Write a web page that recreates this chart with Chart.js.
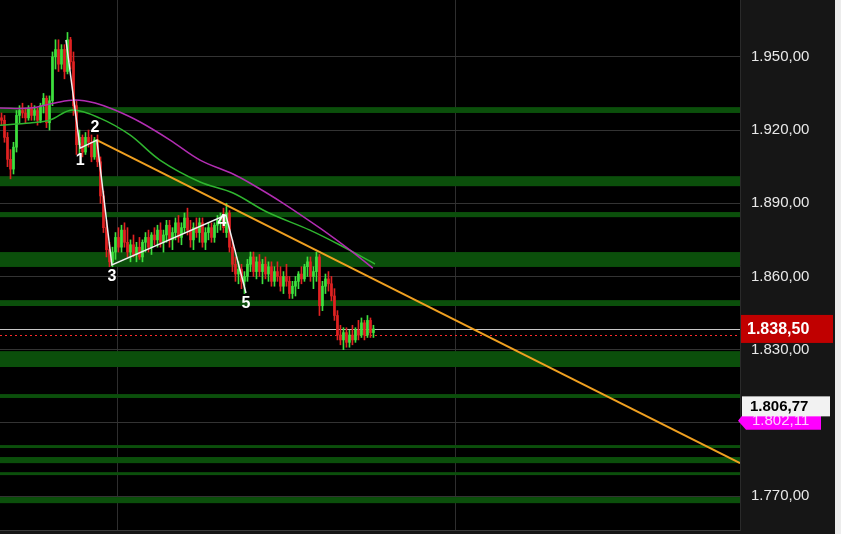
<!DOCTYPE html>
<html>
<head>
<meta charset="utf-8">
<script src="https://cdn.jsdelivr.net/npm/chart.js@4"></script>
<style>
  html, body { margin: 0; padding: 0; background: #000; }
  canvas { display: block; }
</style>
</head>
<body>
<canvas id="priceChart" width="841" height="534"></canvas>
<script>
// candle data (bar index, OHLC)
const opens  = [1925,1924,1917,1908,1904,1913,1926,1928,1927,1925,1929,1926,1928,1924,1930,1933,1923,1932,1950,1953,
                1947,1953,1944,1957,1948,1930,1914,1917,1911,1917,1915,1909,1916,1907,1893,1880,1871,1866,1870,1876,
                1872,1879,1874,1870,1873,1869,1872,1868,1874,1876,1872,1877,1875,1879,1874,1877,1881,1875,1878,1882,
                1876,1880,1884,1879,1875,1880,1878,1882,1874,1878,1880,1876,1881,1883,1884,1878,1886,1872,1865,1861,
                1863,1858,1860,1865,1868,1862,1866,1862,1865,1861,1864,1858,1862,1860,1856,1860,1858,1853,1856,1858,
                1861,1859,1864,1866,1860,1862,1868,1848,1856,1859,1857,1852,1844,1836,1834,1837,1833,1836,1834,1838,
                1836,1841,1836,1842,1837];
const highs  = [1927,1926,1919,1912,1915,1928,1930,1931,1929,1930,1931,1930,1929,1931,1935,1934,1934,1952,1957,1957,
                1955,1955,1960,1958,1952,1932,1920,1918,1919,1920,1918,1917,1918,1909,1895,1883,1874,1872,1878,1880,
                1881,1882,1880,1875,1877,1874,1876,1875,1878,1879,1878,1880,1881,1882,1879,1883,1883,1880,1884,1885,
                1882,1886,1888,1883,1882,1884,1884,1884,1880,1882,1882,1882,1885,1886,1888,1890,1887,1875,1868,1866,
                1865,1862,1867,1870,1870,1868,1869,1867,1868,1866,1866,1864,1866,1864,1862,1865,1860,1858,1860,1862,
                1864,1865,1868,1868,1864,1870,1869,1858,1861,1862,1860,1855,1846,1840,1839,1839,1838,1840,1839,1842,
                1843,1842,1844,1843,1840];
const lows   = [1922,1915,1905,1900,1902,1911,1923,1925,1923,1924,1924,1924,1922,1923,1927,1921,1920,1930,1945,1944,
                1945,1941,1943,1945,1926,1910,1910,1909,1910,1913,1907,1908,1905,1890,1878,1868,1864,1864,1867,1870,
                1870,1872,1868,1866,1868,1866,1867,1866,1870,1870,1869,1873,1872,1872,1870,1874,1872,1871,1875,1874,
                1873,1878,1877,1872,1871,1876,1874,1872,1871,1875,1874,1874,1878,1879,1878,1876,1870,1862,1858,1857,
                1855,1853,1858,1862,1860,1859,1860,1857,1859,1858,1856,1856,1858,1854,1853,1856,1851,1851,1852,1855,
                1857,1858,1860,1858,1855,1858,1844,1846,1853,1854,1850,1842,1834,1832,1830,1831,1831,1832,1833,1834,
                1835,1834,1835,1835,1835];
const closes = [1924,1917,1908,1904,1913,1926,1928,1927,1925,1929,1926,1928,1924,1930,1933,1923,1932,1950,1953,1947,
                1953,1944,1957,1948,1930,1914,1917,1911,1917,1915,1909,1916,1907,1893,1880,1871,1866,1870,1876,1872,
                1879,1874,1870,1873,1869,1872,1868,1874,1876,1872,1877,1875,1879,1874,1877,1881,1875,1878,1882,1876,
                1880,1884,1879,1875,1880,1878,1882,1874,1878,1880,1876,1881,1883,1884,1880,1886,1872,1865,1861,1863,
                1858,1860,1865,1868,1862,1866,1862,1865,1861,1864,1858,1862,1860,1856,1860,1858,1853,1856,1858,1861,
                1859,1864,1866,1860,1862,1868,1848,1856,1859,1857,1852,1844,1836,1834,1837,1833,1836,1834,1838,1836,
                1841,1836,1842,1837,1838.5];

// moving averages (bar index, price)
const maSlowX = [0, 10, 18.3, 25, 31.7, 38.3, 46.7, 56.7, 66.7, 77.7, 83.3, 94.3, 106.7, 116.7, 124.3];
const maSlowY = [1929.0, 1929.0, 1931.1, 1932.3, 1931.1, 1928.2, 1923.3, 1915.9, 1907.7, 1902.0, 1898.3, 1890.1, 1879.8, 1870.8, 1863.4];
const maFastX = [0, 10, 16.7, 24, 33.3, 43.3, 53.3, 66.7, 77.7, 89, 103.3, 113.3, 125];
const maFastY = [1922.0, 1922.9, 1924.1, 1928.2, 1924.9, 1918.0, 1907.7, 1898.7, 1894.2, 1886.4, 1879.0, 1872.9, 1865.1];

// elliott wave count
const waveX = [22, 26.7, 32.3, 37.3, 75.3, 82];
const waveY = [1956.9, 1912.6, 1915.9, 1864.7, 1885.2, 1853.2];
const waveLabels = ['', '1', '2', '3', '4', '5'];

// trend line
const trendX = [32.3, 246.7];
const trendY = [1915.9, 1783.5];

// support / resistance zones [top, bottom]
const zones = [[1929.4, 1927.0], [1901.1, 1897.0], [1886.4, 1884.3], [1870.0, 1863.9], [1850.3, 1847.9],
               [1829.4, 1822.9], [1811.8, 1810.2], [1790.9, 1789.7], [1786.0, 1783.5], [1779.8, 1778.6],
               [1769.6, 1767.1]];

const sessionBreaks = [39.3, 151.7];
const lastPrice = 1838.5;
const redLevel = 1836.0;
const whiteLevel = 1806.77;
const magentaLevel = 1802.11;

function fmt(v) {
  const parts = v.toFixed(2).split('.');
  return parts[0].replace(/\B(?=(\d{3})+(?!\d))/g, '.') + ',' + parts[1];
}

const idx = closes.map((c, i) => i);
const candleColors = idx.map(i => closes[i] >= opens[i] ? '#3ee03e' : '#e02222');

const extras = {
  id: 'extras',
  beforeDraw(chart) {
    const c = chart.ctx, a = chart.chartArea;
    c.save();
    c.fillStyle = '#000';
    c.fillRect(0, 0, chart.width, chart.height);
    c.fillStyle = '#161616';
    c.fillRect(a.right, 0, chart.width - a.right, chart.height);
    c.fillRect(0, a.bottom, chart.width, chart.height - a.bottom);
    c.fillStyle = '#ececec';
    c.fillRect(835, 0, chart.width - 835, chart.height);
    c.restore();
  },
  beforeDatasetsDraw(chart) {
    const c = chart.ctx, a = chart.chartArea, y = chart.scales.y;
    c.save();
    c.fillStyle = '#0b4f0b';
    zones.forEach(z => {
      const t = y.getPixelForValue(z[0]), b = y.getPixelForValue(z[1]);
      c.fillRect(a.left, t, a.right - a.left, b - t);
    });
    // last price line
    let py = Math.round(y.getPixelForValue(lastPrice)) + 0.5;
    c.strokeStyle = '#c8c8c8';
    c.lineWidth = 1;
    c.beginPath(); c.moveTo(a.left, py); c.lineTo(a.right, py); c.stroke();
    py = Math.round(y.getPixelForValue(redLevel)) + 0.5;
    c.strokeStyle = '#ff2a2a';
    c.setLineDash([2, 3]);
    c.beginPath(); c.moveTo(a.left, py); c.lineTo(a.right, py); c.stroke();
    // bottom edge
    c.setLineDash([]);
    c.strokeStyle = '#3a3a3a';
    c.beginPath(); c.moveTo(a.left, a.bottom + 0.5); c.lineTo(a.right, a.bottom + 0.5); c.stroke();
    c.restore();
  },
  afterDraw(chart) {
    const c = chart.ctx, a = chart.chartArea, x = chart.scales.x, y = chart.scales.y;
    c.save();
    // wave labels
    c.font = 'bold 16px "Liberation Sans", Arial, sans-serif';
    c.fillStyle = '#ffffff';
    c.textAlign = 'center';
    c.textBaseline = 'middle';
    const offs = [[0, 0], [0, 12], [-2, -12], [0, 12], [-4, 7], [0, 11]];
    waveX.forEach((wx, i) => {
      if (!waveLabels[i]) return;
      c.fillText(waveLabels[i], x.getPixelForValue(wx) + offs[i][0], y.getPixelForValue(waveY[i]) + offs[i][1]);
    });
    // axis price tags
    c.textAlign = 'left';
    const my = y.getPixelForValue(magentaLevel);
    c.fillStyle = '#ff00ff';
    c.beginPath();
    c.moveTo(a.right - 2, my + 3);
    c.lineTo(a.right + 6, my - 7);
    c.lineTo(821, my - 7);
    c.lineTo(821, my + 12);
    c.lineTo(a.right + 6, my + 12);
    c.closePath();
    c.fill();
    c.fillStyle = '#ffd0ff';
    c.font = '15px "Liberation Sans", Arial, sans-serif';
    c.fillText(fmt(magentaLevel), 752, my + 3);

    const wy = y.getPixelForValue(whiteLevel);
    c.fillStyle = '#f2f2f2';
    c.fillRect(a.right + 2, wy - 10, 88, 20);
    c.fillStyle = '#000';
    c.font = 'bold 15px "Liberation Sans", Arial, sans-serif';
    c.fillText(fmt(whiteLevel), 750, wy + 1);

    const ry = y.getPixelForValue(lastPrice);
    c.fillStyle = '#c00000';
    c.fillRect(a.right + 1, ry - 14, 92, 28);
    c.fillStyle = '#ffffff';
    c.font = 'bold 16px "Liberation Sans", Arial, sans-serif';
    c.fillText(fmt(lastPrice), 747, ry + 1);
    c.restore();
  }
};

const ctx = document.getElementById('priceChart').getContext('2d');

const chart = new Chart(ctx, {
  type: 'bar',
  data: {
    datasets: [
      {
        type: 'line',
        data: waveX.map((v, i) => ({ x: v, y: waveY[i] })),
        borderColor: '#f0f0f0',
        borderWidth: 1.5,
        pointRadius: 0,
        order: 0
      },
      {
        type: 'line',
        data: trendX.map((v, i) => ({ x: v, y: trendY[i] })),
        borderColor: '#f0a020',
        borderWidth: 2,
        pointRadius: 0,
        order: 1
      },
      {
        type: 'line',
        data: maSlowX.map((v, i) => ({ x: v, y: maSlowY[i] })),
        borderColor: '#b22db2',
        borderWidth: 1.5,
        pointRadius: 0,
        tension: 0.35,
        order: 2
      },
      {
        type: 'line',
        data: maFastX.map((v, i) => ({ x: v, y: maFastY[i] })),
        borderColor: '#2fb52f',
        borderWidth: 1.5,
        pointRadius: 0,
        tension: 0.35,
        order: 3
      },
      {
        data: idx.map(i => ({ x: i + 0.5, y: [opens[i], closes[i] === opens[i] ? opens[i] + 0.3 : closes[i]] })),
        backgroundColor: candleColors,
        barThickness: 2,
        grouped: false,
        order: 4
      },
      {
        data: idx.map(i => ({ x: i + 0.5, y: [lows[i], highs[i]] })),
        backgroundColor: candleColors,
        barThickness: 1,
        grouped: false,
        order: 5
      }
    ]
  },
  options: {
    responsive: false,
    devicePixelRatio: 1,
    animation: false,
    layout: { padding: { left: 0, top: 0, right: 0, bottom: 4 } },
    plugins: {
      legend: { display: false },
      tooltip: { enabled: false }
    },
    scales: {
      x: {
        type: 'linear',
        min: 0,
        max: 246.7,
        offset: false,
        afterBuildTicks: s => { s.ticks = sessionBreaks.map(v => ({ value: v })); },
        afterFit: s => { s.height = 0; s.paddingLeft = 0; s.paddingRight = 0; s.paddingTop = 0; s.paddingBottom = 0; },
        ticks: { display: false },
        grid: { color: '#2e2e2e', drawTicks: false, offset: false },
        border: { display: false }
      },
      y: {
        position: 'right',
        min: 1756.1,
        max: 1973.3,
        afterFit: s => { s.width = 101; s.paddingTop = 0; s.paddingBottom = 0; },
        ticks: {
          stepSize: 30,
          includeBounds: false,
          padding: 11,
          color: '#e8e8e8',
          font: { family: '"Liberation Sans", Arial, sans-serif', size: 15 },
          callback: v => fmt(v)
        },
        grid: { color: '#333333', drawTicks: false },
        border: { color: '#2a2a2a' }
      }
    }
  },
  plugins: [extras]
});
</script>
</body>
</html>
